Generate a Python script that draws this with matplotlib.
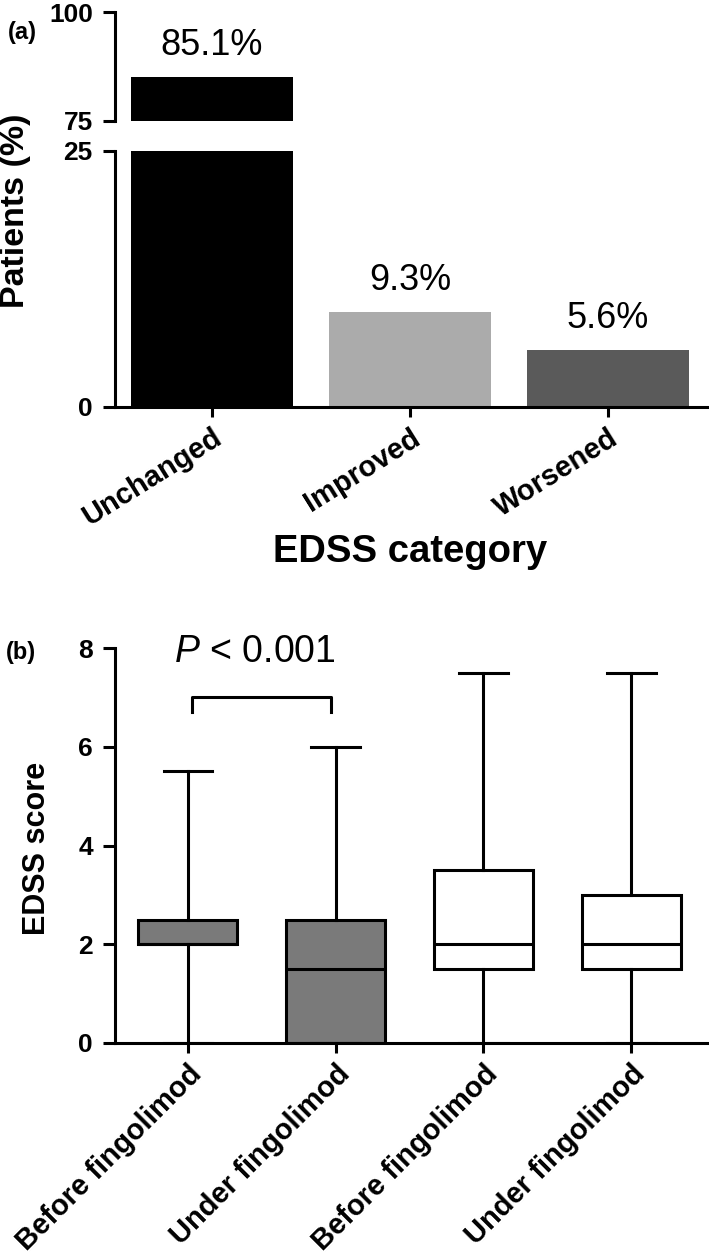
import numpy as np
import matplotlib
matplotlib.use("Agg")
from matplotlib import pyplot as plt

plt.rcParams['font.family'] = ['Liberation Sans', 'DejaVu Sans']
plt.rcParams['mathtext.fontset'] = 'custom'
plt.rcParams['mathtext.it'] = 'Liberation Sans:italic'
plt.rcParams['mathtext.rm'] = 'Liberation Sans'

# panel (a) data
categories = ['Unchanged', 'Improved', 'Worsened']
patients_pct = [85.1, 9.3, 5.6]
bar_colors = ['#000000', '#ababab', '#5a5a5a']

# panel (b) data
groups = ['Before fingolimod', 'Under fingolimod', 'Before fingolimod', 'Under fingolimod']
whislo = [0, 0, 0, 0]
q1 = [2.0, 0.0, 1.5, 1.5]
med = [2.0, 1.5, 2.0, 2.0]
q3 = [2.5, 2.5, 3.5, 3.0]
whishi = [5.5, 6.0, 7.5, 7.5]
box_colors = ['#7a7a7a', '#7a7a7a', 'white', 'white']

LW = 2.2
W, H = 709, 1259
fig = plt.figure(figsize=(W / 100, H / 100), dpi=100)

def fr(left, top, right, bottom):
    return [left / W, 1 - bottom / H, (right - left) / W, (bottom - top) / H]

ax_hi = fig.add_axes(fr(115, 12, 708, 121))
ax_lo = fig.add_axes(fr(115, 151, 708, 407))
ax_b = fig.add_axes(fr(115, 648, 708, 1043))

def style(ax):
    for s in ['top', 'right']:
        ax.spines[s].set_visible(False)
    ax.spines['left'].set_linewidth(LW)
    ax.spines['bottom'].set_linewidth(LW)
    ax.tick_params(axis='y', width=LW, length=9, labelsize=19, pad=7)
    ax.tick_params(axis='x', width=LW, length=7, pad=5)

x = np.arange(len(categories))
for ax in (ax_hi, ax_lo):
    ax.bar(x, patients_pct, width=0.82, color=bar_colors)
    ax.set_xlim(-0.49, 2.505)
    style(ax)

ax_hi.set_ylim(75, 100)
ax_hi.set_yticks([75, 100])
ax_hi.set_yticklabels(['75', '100'], fontweight='bold')
ax_hi.spines['bottom'].set_visible(False)
ax_hi.set_xticks([])

ax_lo.set_ylim(0, 25)
ax_lo.set_yticks([0, 25])
ax_lo.set_yticklabels(['0', '25'], fontweight='bold')
ax_lo.set_xticks(x)
ax_lo.set_xticklabels(categories, rotation=32, ha='right', rotation_mode='anchor',
                      fontsize=21, fontweight='bold')

for i, v in enumerate(patients_pct):
    target = ax_hi if v > 25 else ax_lo
    target.annotate(f'{v}%', (x[i], v), xytext=(0, 10), textcoords='offset points',
                    ha='center', va='bottom', fontsize=26)

fig.text(16 / W, 1 - 211 / H, 'Patients (%)', rotation=90, ha='center', va='center',
         fontsize=24.5, fontweight='bold')
fig.text(410 / W, 1 - 562 / H, 'EDSS category', ha='center', va='baseline',
         fontsize=27.5, fontweight='bold')
fig.text(8 / W, 1 - 33 / H, '(a)', ha='left', va='center', fontsize=17, fontweight='bold')

# panel (b)
stats = []
for i in range(len(groups)):
    stats.append(dict(whislo=whislo[i], q1=q1[i], med=med[i], q3=q3[i],
                      whishi=whishi[i], fliers=[], label=groups[i]))
pos = np.arange(len(groups))
bp = ax_b.bxp(stats, positions=pos, widths=0.67, capwidths=0.33, patch_artist=True,
              showfliers=False,
              boxprops=dict(linewidth=LW, edgecolor='black'),
              whiskerprops=dict(linewidth=LW, color='black'),
              capprops=dict(linewidth=LW, color='black'),
              medianprops=dict(linewidth=LW, color='black'))
for patch, c in zip(bp['boxes'], box_colors):
    patch.set_facecolor(c)

ax_b.set_xlim(-0.494, 3.52)
ax_b.set_ylim(0, 8)
ax_b.set_yticks([0, 2, 4, 6, 8])
ax_b.set_yticklabels(['0', '2', '4', '6', '8'], fontweight='bold')
style(ax_b)
ax_b.set_xticks(pos)
ax_b.set_xticklabels(groups, rotation=45, ha='right', rotation_mode='anchor',
                     fontsize=21, fontweight='bold')
fig.text(37 / W, 1 - 848 / H, 'EDSS score', rotation=90, ha='center', va='center',
         fontsize=22, fontweight='bold')

# significance bracket
ax_b.plot([0.03, 0.03, 0.97, 0.97], [6.7, 7.0, 7.0, 6.7], color='black', lw=LW,
          clip_on=False)
ax_b.text(0.45, 7.71, '$P$ < 0.001', ha='center', va='baseline', fontsize=27)
fig.text(6 / W, 1 - 652 / H, '(b)', ha='left', va='center', fontsize=17, fontweight='bold')

fig.savefig('out.png', dpi=100)
